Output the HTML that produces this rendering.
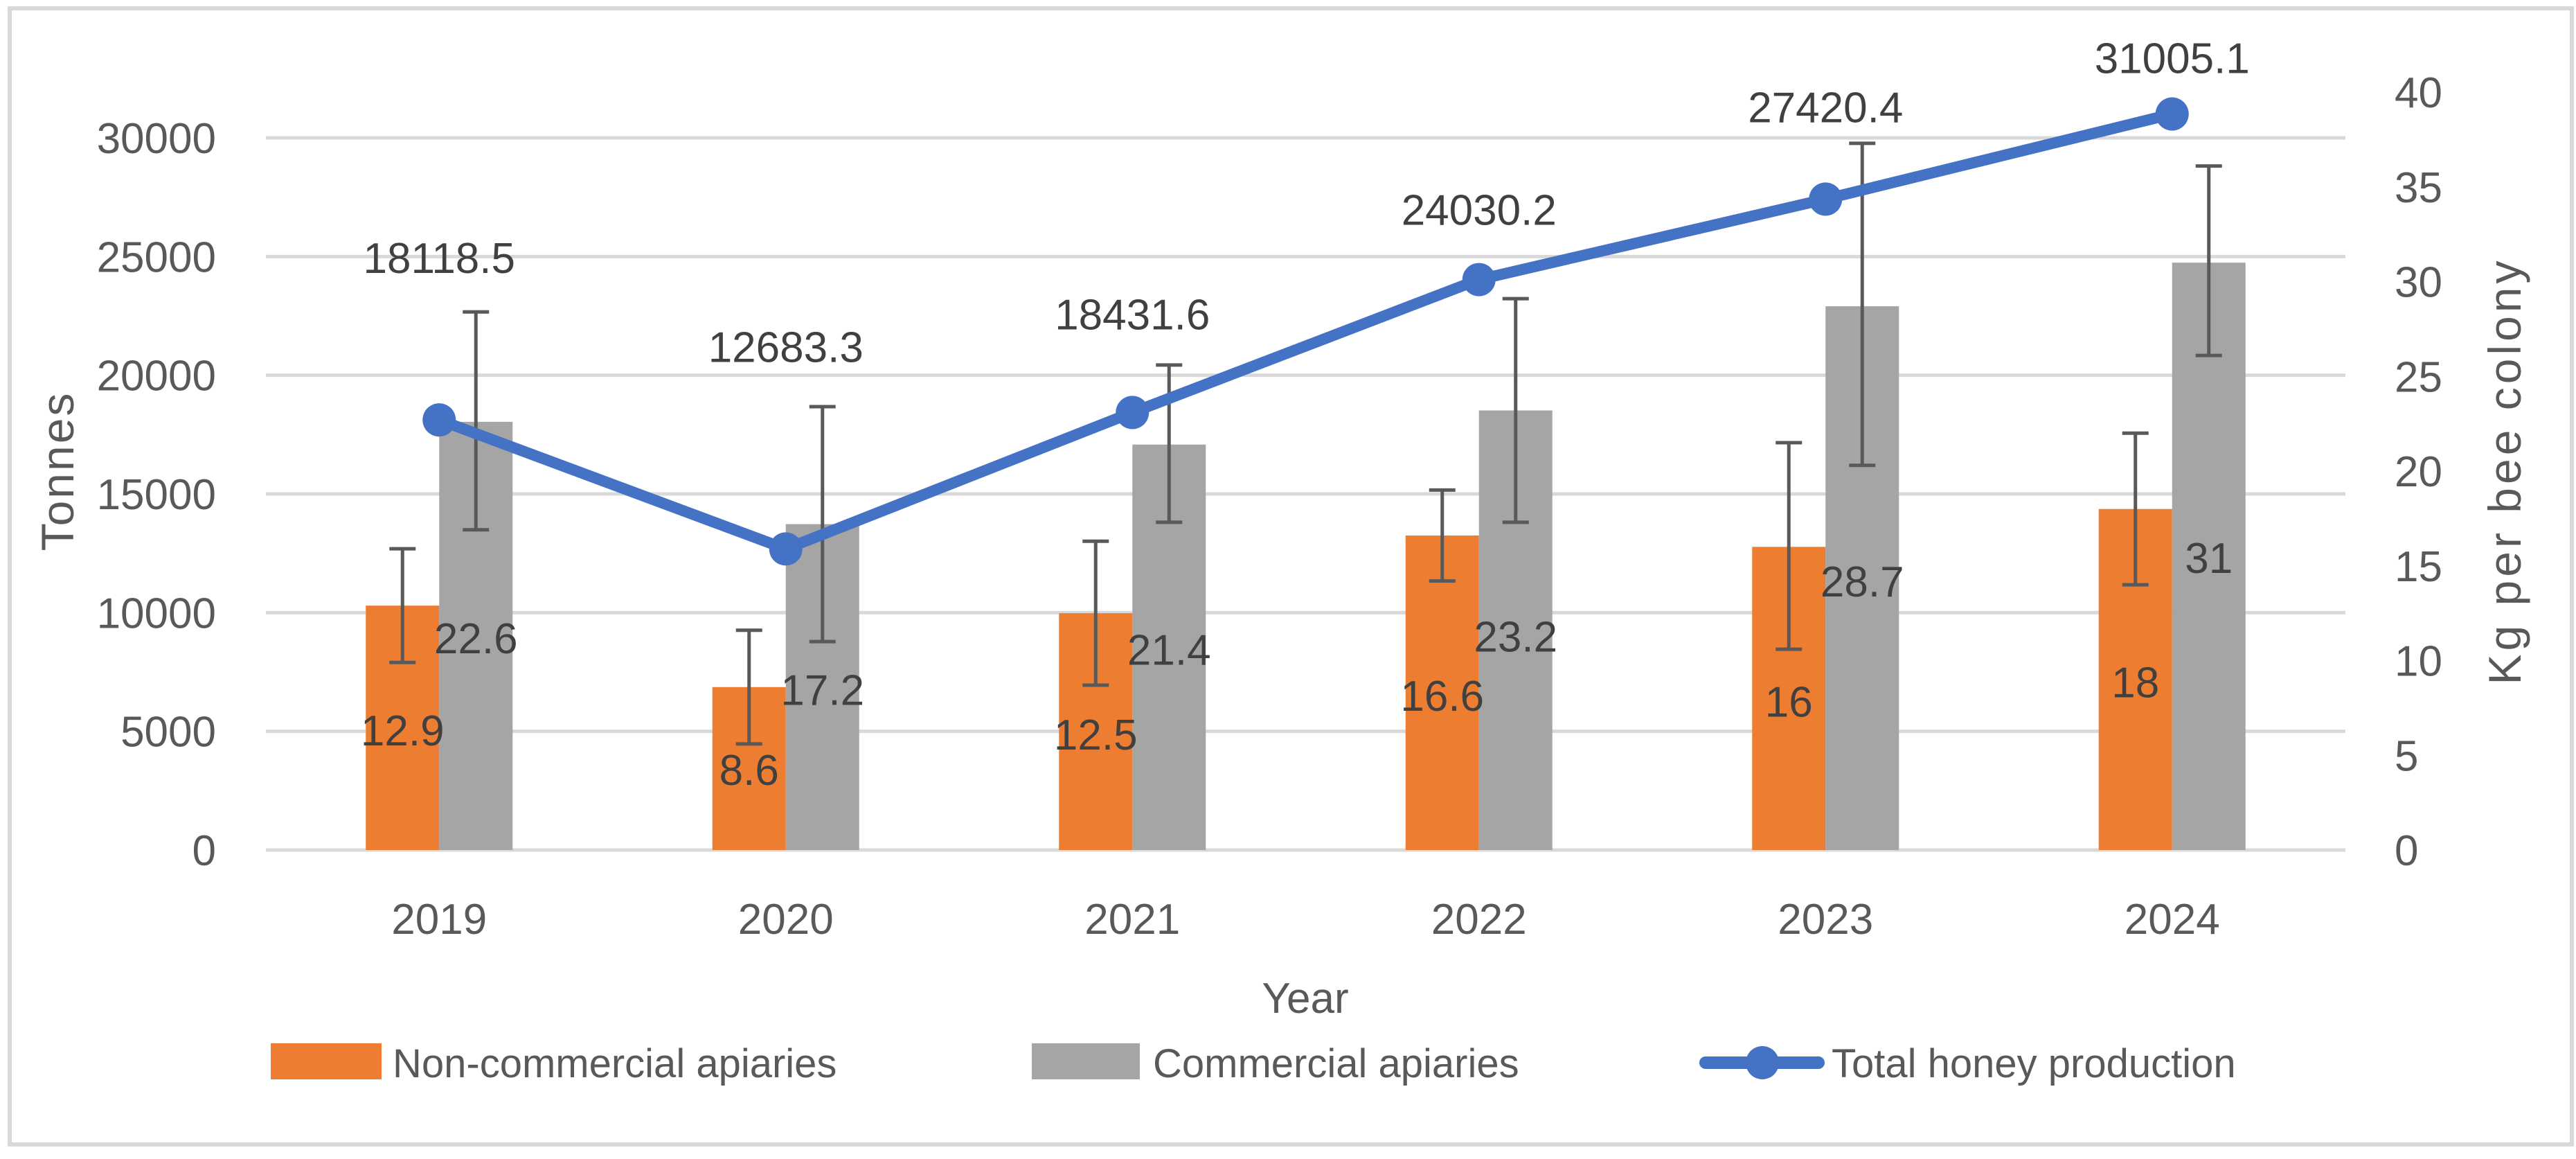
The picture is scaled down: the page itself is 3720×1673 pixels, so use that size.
<!DOCTYPE html>
<html><head><meta charset="utf-8"><style>
html,body{margin:0;padding:0;background:#fff;}
svg{display:block;font-family:"Liberation Sans",sans-serif;}
</style></head><body>
<svg id="chart" width="3720" height="1673" viewBox="0 0 3720 1673" xmlns="http://www.w3.org/2000/svg">
<rect x="14" y="12" width="3700" height="1640" fill="#fff" stroke="#d9d9d9" stroke-width="6"/>
<g id="grid"></g><g id="bars"></g><g id="errs"></g><g id="line"></g><g id="labels"></g><g id="axes"></g>
<text x="0" y="0" transform="translate(106,680) rotate(-90)" text-anchor="middle" font-size="66" letter-spacing="3" fill="#595959">Tonnes</text>
<text x="0" y="0" transform="translate(3640,680) rotate(-90)" text-anchor="middle" font-size="66" letter-spacing="5" fill="#595959">Kg per bee colony</text>
<text x="1885" y="1462" text-anchor="middle" font-size="62" fill="#595959">Year</text>
<g>
<rect x="391" y="1506" width="160" height="52" fill="#ED7D31"/>
<text x="567" y="1555" font-size="58" fill="#595959">Non-commercial apiaries</text>
<rect x="1490" y="1506" width="156" height="52" fill="#A5A5A5"/>
<text x="1665" y="1555" font-size="58" fill="#595959">Commercial apiaries</text>
<line x1="2463" y1="1534" x2="2626" y2="1534" stroke="#4472C4" stroke-width="18" stroke-linecap="round"/>
<circle cx="2545" cy="1534" r="24" fill="#4472C4"/>
<text x="2645" y="1555" font-size="58" fill="#595959">Total honey production</text>
</g>
</svg>
<script>
const years = ["2019","2020","2021","2022","2023","2024"];
const nonCommercial = [12.9, 8.6, 12.5, 16.6, 16, 18];
const commercial = [22.6, 17.2, 21.4, 23.2, 28.7, 31];
const totalProduction = [18118.5, 12683.3, 18431.6, 24030.2, 27420.4, 31005.1];
const nonCommLow = [9.9, 5.6, 8.7, 14.2, 10.6, 14.0];
const nonCommHigh = [15.9, 11.6, 16.3, 19.0, 21.5, 22.0];
const commLow = [16.9, 11.0, 17.3, 17.3, 20.3, 26.1];
const commHigh = [28.4, 23.4, 25.6, 29.1, 37.3, 36.1];
const leftTicks = [0, 5000, 10000, 15000, 20000, 25000, 30000];
const rightTicks = [0, 5, 10, 15, 20, 25, 30, 35, 40];

const NS = "http://www.w3.org/2000/svg";
const X0 = 384, X1 = 3387, Y0 = 1227;
const catW = (X1 - X0) / years.length;
const yL = v => Y0 - v * (1028 / 30000);
const yR = v => Y0 - v * (1094 / 40);
const cx = i => X0 + catW * (i + 0.5);
const barW = 106;
// label baseline offsets in pixels (styling, not data)
const lineLabelDy = [-212, -270, -120, -79, -111, -59];
const ncLabelDy = [202, 141, 197, 253, 245, 272];
const cLabelDy = [334, 261, 318, 348, 419, 448];

function el(tag, attrs, parent, text) {
  const e = document.createElementNS(NS, tag);
  for (const k in attrs) e.setAttribute(k, attrs[k]);
  if (text !== undefined) e.textContent = text;
  document.getElementById(parent).appendChild(e);
  return e;
}

leftTicks.forEach(t => {
  const g = el("line", {x1: X0, x2: X1, y1: yL(t), y2: yL(t), stroke: "#d9d9d9", "stroke-width": 5}, "grid");
  
  
  const l = el("text", {x: 312, y: yL(t) + 22, "text-anchor": "end", "font-size": 62, fill: "#595959"}, "axes", String(t));
  
  
});
rightTicks.forEach(t => {
  const l = el("text", {x: 3458, y: yR(t) + 22, "text-anchor": "start", "font-size": 62, fill: "#595959"}, "axes", String(t));
  
  
});
years.forEach((y, i) => {
  const l = el("text", {x: cx(i), y: 1348, "text-anchor": "middle", "font-size": 62, fill: "#595959"}, "axes", y);
  
  

  const b1 = el("rect", {x: cx(i) - barW, y: yR(nonCommercial[i]), width: barW, height: Y0 - yR(nonCommercial[i]), fill: "#ED7D31"}, "bars");
  
  
  const b2 = el("rect", {x: cx(i), y: yR(commercial[i]), width: barW, height: Y0 - yR(commercial[i]), fill: "#A5A5A5"}, "bars");
  
  

  [[cx(i) - barW / 2, nonCommLow[i], nonCommHigh[i], 'noncommercial'], [cx(i) + barW / 2, commLow[i], commHigh[i], 'commercial']].forEach(([x, lo, hi, nm]) => {
    const p = el("path", {d: `M${x},${yR(lo)}V${yR(hi)}M${x - 19},${yR(lo)}H${x + 19}M${x - 19},${yR(hi)}H${x + 19}`, stroke: "#595959", "stroke-width": 5, fill: "none"}, "errs");
    
    
  });

  const t1 = el("text", {x: cx(i) - barW / 2, y: yR(nonCommercial[i]) + ncLabelDy[i], "text-anchor": "middle", "font-size": 62, fill: "#404040"}, "labels", String(nonCommercial[i]));
  
  
  const t2 = el("text", {x: cx(i) + barW / 2, y: yR(commercial[i]) + cLabelDy[i], "text-anchor": "middle", "font-size": 62, fill: "#404040"}, "labels", String(commercial[i]));
  
  
  const t3 = el("text", {x: cx(i), y: yL(totalProduction[i]) + lineLabelDy[i], "text-anchor": "middle", "font-size": 62, fill: "#404040"}, "labels", String(totalProduction[i]));
  
  
});
const pts = totalProduction.map((v, i) => cx(i) + "," + yL(v)).join(" ");
const pl = el("polyline", {points: pts, fill: "none", stroke: "#4472C4", "stroke-width": 16, "stroke-linejoin": "round"}, "line");


totalProduction.forEach((v, i) => {
  const c = el("circle", {cx: cx(i), cy: yL(v), r: 24, fill: "#4472C4"}, "line");
  
  
});
</script>
</body></html>
